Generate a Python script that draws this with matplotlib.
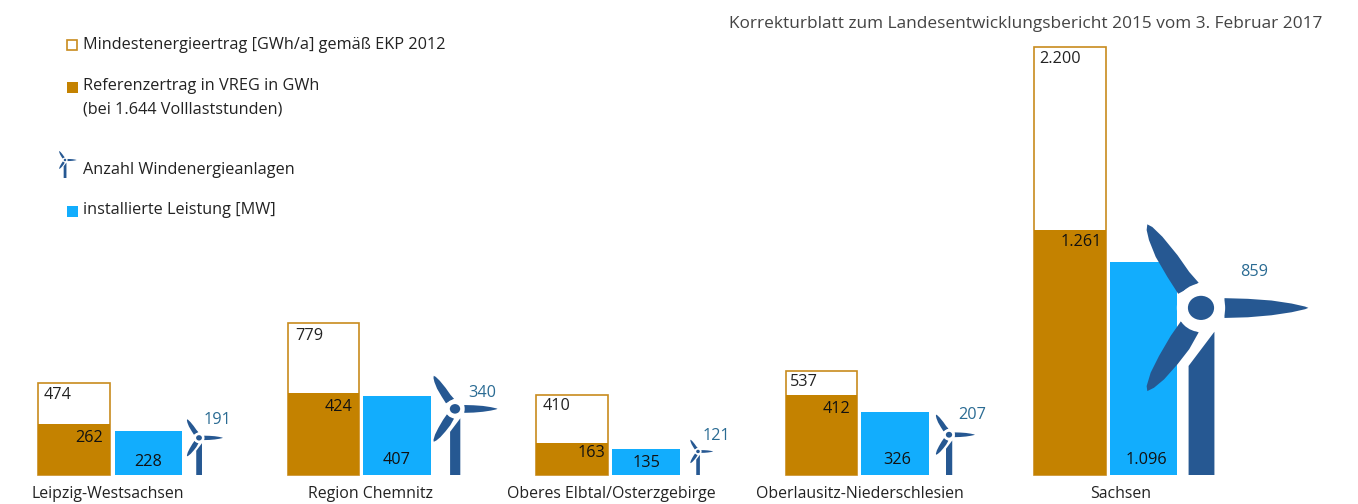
import matplotlib
matplotlib.use("Agg")
import matplotlib.pyplot as plt
from matplotlib.patches import Ellipse, Rectangle

categories = ["Leipzig-Westsachsen", "Region Chemnitz", "Oberes Elbtal/Osterzgebirge",
              "Oberlausitz-Niederschlesien", "Sachsen"]
mindest = [474, 779, 410, 537, 2200]
referenz = [262, 424, 163, 412, 1261]
leistung = [228, 407, 135, 326, 1096]
anlagen = [191, 340, 121, 207, 859]
mindest_labels = ["474", "779", "410", "537", "2.200"]
referenz_labels = ["262", "424", "163", "412", "1.261"]
leistung_labels = ["228", "407", "135", "326", "1.096"]
anlagen_labels = ["191", "340", "121", "207", "859"]

W, H = 1358, 504
BASE = 475
K = 428 / 2200  # pixels per unit

ORANGE = "#C48200"
EDGE = "#C88B1E"
BLUE = "#12ADFD"
DARK = "#265892"
TEAL = "#2A6B93"
TXT = "#222222"
plt.rcParams["font.family"] = ["Open Sans", "DejaVu Sans"]
FS = 11.7
FS_CAT = 11.4

fig = plt.figure(figsize=(W / 100, H / 100), dpi=100)
ax = fig.add_axes([0, 0, 1, 1])
ax.set_xlim(0, W)
ax.set_ylim((BASE - H) / K, BASE / K)
ax.axis("off")


def Y(p):
    return (BASE - p - 1) / K


orange_x = [(38, 110), (288, 359), (536, 608), (786, 857), (1034, 1106)]
blue_x = [(115, 182), (363, 431), (612, 680), (861, 929), (1110, 1177)]
hub_x = [199, 455, 698, 949, 1201]
min_lx = [44, 295, 543, 790, 1039]
min_ly = [394, 335, 405, 381, 58]
ref_rx = [103, 352, 605, 850, 1102]
ref_ly = [437, 406, 452, 408, 241]
lei_cx = [148, 397, 647, 897, 1146]
lei_ly = [461, 459, 462, 459, 459]
anl_cx = [218, 482, 716, 972, 1254]
anl_ly = [419, 392, 435, 414, 271]
cat_cx = [108, 370, 611, 860, 1121]

# turbine outlines, in fractions of the hub height (859 units -> 166 px)
R = 3 * 166.0
def pts(seq):
    return [((a - 540) / R, (297 - b) / R) for a, b in seq]
BLADES = [
    pts([(610, 268), (680, 270), (750, 275), (810, 284), (850, 293), (860, 297),
         (850, 301), (810, 310), (750, 319), (680, 325), (610, 327)]),
    pts([(472, 255), (440, 205), (405, 145), (385, 95), (378, 65), (380, 48),
         (395, 56), (425, 85), (470, 140), (505, 190), (533, 222)]),
    pts([(480, 337), (450, 380), (415, 440), (390, 490), (378, 530), (380, 545),
         (400, 535), (430, 510), (470, 465), (505, 420), (533, 370)]),
]
TOWER = pts([(503, 795), (580, 795), (580, 368), (503, 470)])


def turbine(cx, v, z=4):
    h = v * K
    for shape in [TOWER] + BLADES:
        ax.fill([cx + a * h for a, b in shape], [v + b * h / K for a, b in shape],
                color=DARK, lw=0, zorder=z)
    ax.add_patch(Ellipse((cx, v), 2 * 24 / 166 * h, 2 * 24 / 166 * h / K, color="white", lw=0, zorder=z + 1))
    ax.add_patch(Ellipse((cx, v), 2 * 13 / 166 * h, 2 * 12 / 166 * h / K, color=DARK, lw=0, zorder=z + 2))


for i in range(len(categories)):
    x0, x1 = orange_x[i]
    ax.bar(x0, mindest[i], x1 - x0, align="edge", fc="white", ec=EDGE, lw=1.2, zorder=2)
    ax.bar(x0, referenz[i], x1 - x0, align="edge", color=ORANGE, lw=0, zorder=3)
    b0, b1 = blue_x[i]
    ax.bar(b0, leistung[i], b1 - b0, align="edge", color=BLUE, lw=0, zorder=2)
    turbine(hub_x[i], anlagen[i])
    ax.text(min_lx[i], Y(min_ly[i]), mindest_labels[i], ha="left", va="center", fontsize=FS, color=TXT, zorder=8)
    ax.text(ref_rx[i], Y(ref_ly[i]), referenz_labels[i], ha="right", va="center", fontsize=FS, color="#111111", zorder=8)
    ax.text(lei_cx[i], Y(lei_ly[i]), leistung_labels[i], ha="center", va="center", fontsize=FS, color="#111111", zorder=8)
    ax.text(anl_cx[i], Y(anl_ly[i]), anlagen_labels[i], ha="center", va="center", fontsize=FS, color=TEAL, zorder=8)
    ax.text(cat_cx[i], Y(493), categories[i], ha="center", va="center", fontsize=FS_CAT, color=TXT, zorder=8)

ax.text(729, Y(23), "Korrekturblatt zum Landesentwicklungsbericht 2015 vom 3. Februar 2017",
        ha="left", va="center", fontsize=12.42, color="#444444")


def legend_box(x, y, s, **kw):
    ax.add_patch(Rectangle((x, Y(y + s)), s, s / K, zorder=5, **kw))


legend_box(67, 39, 10, fc="white", ec=EDGE, lw=1.2)
ax.text(83, Y(44), "Mindestenergieertrag [GWh/a] gemäß EKP 2012", ha="left", va="center", fontsize=FS, color=TXT)
legend_box(67, 81, 11, fc=ORANGE, lw=0)
ax.text(83, Y(85), "Referenzertrag in VREG in GWh", ha="left", va="center", fontsize=FS, color=TXT)
ax.text(83, Y(109), "(bei 1.644 Volllaststunden)", ha="left", va="center", fontsize=FS, color=TXT)
ax.text(83, Y(169), "Anzahl Windenergieanlagen", ha="left", va="center", fontsize=FS, color=TXT)
legend_box(67, 205, 11, fc=BLUE, lw=0)
ax.text(83, Y(209), "installierte Leistung [MW]", ha="left", va="center", fontsize=FS, color=TXT)

# small legend turbine
lx, ly, lh = 65, 159, 18
for shape in [TOWER] + BLADES:
    ax.fill([lx + a * lh for a, b in shape], [Y(ly) + b * lh / K for a, b in shape], color=DARK, lw=0, zorder=5)
ax.add_patch(Ellipse((lx, Y(ly)), 2.5, 2.5 / K, color=DARK, lw=0, zorder=6))

fig.savefig("out.png", dpi=100)
